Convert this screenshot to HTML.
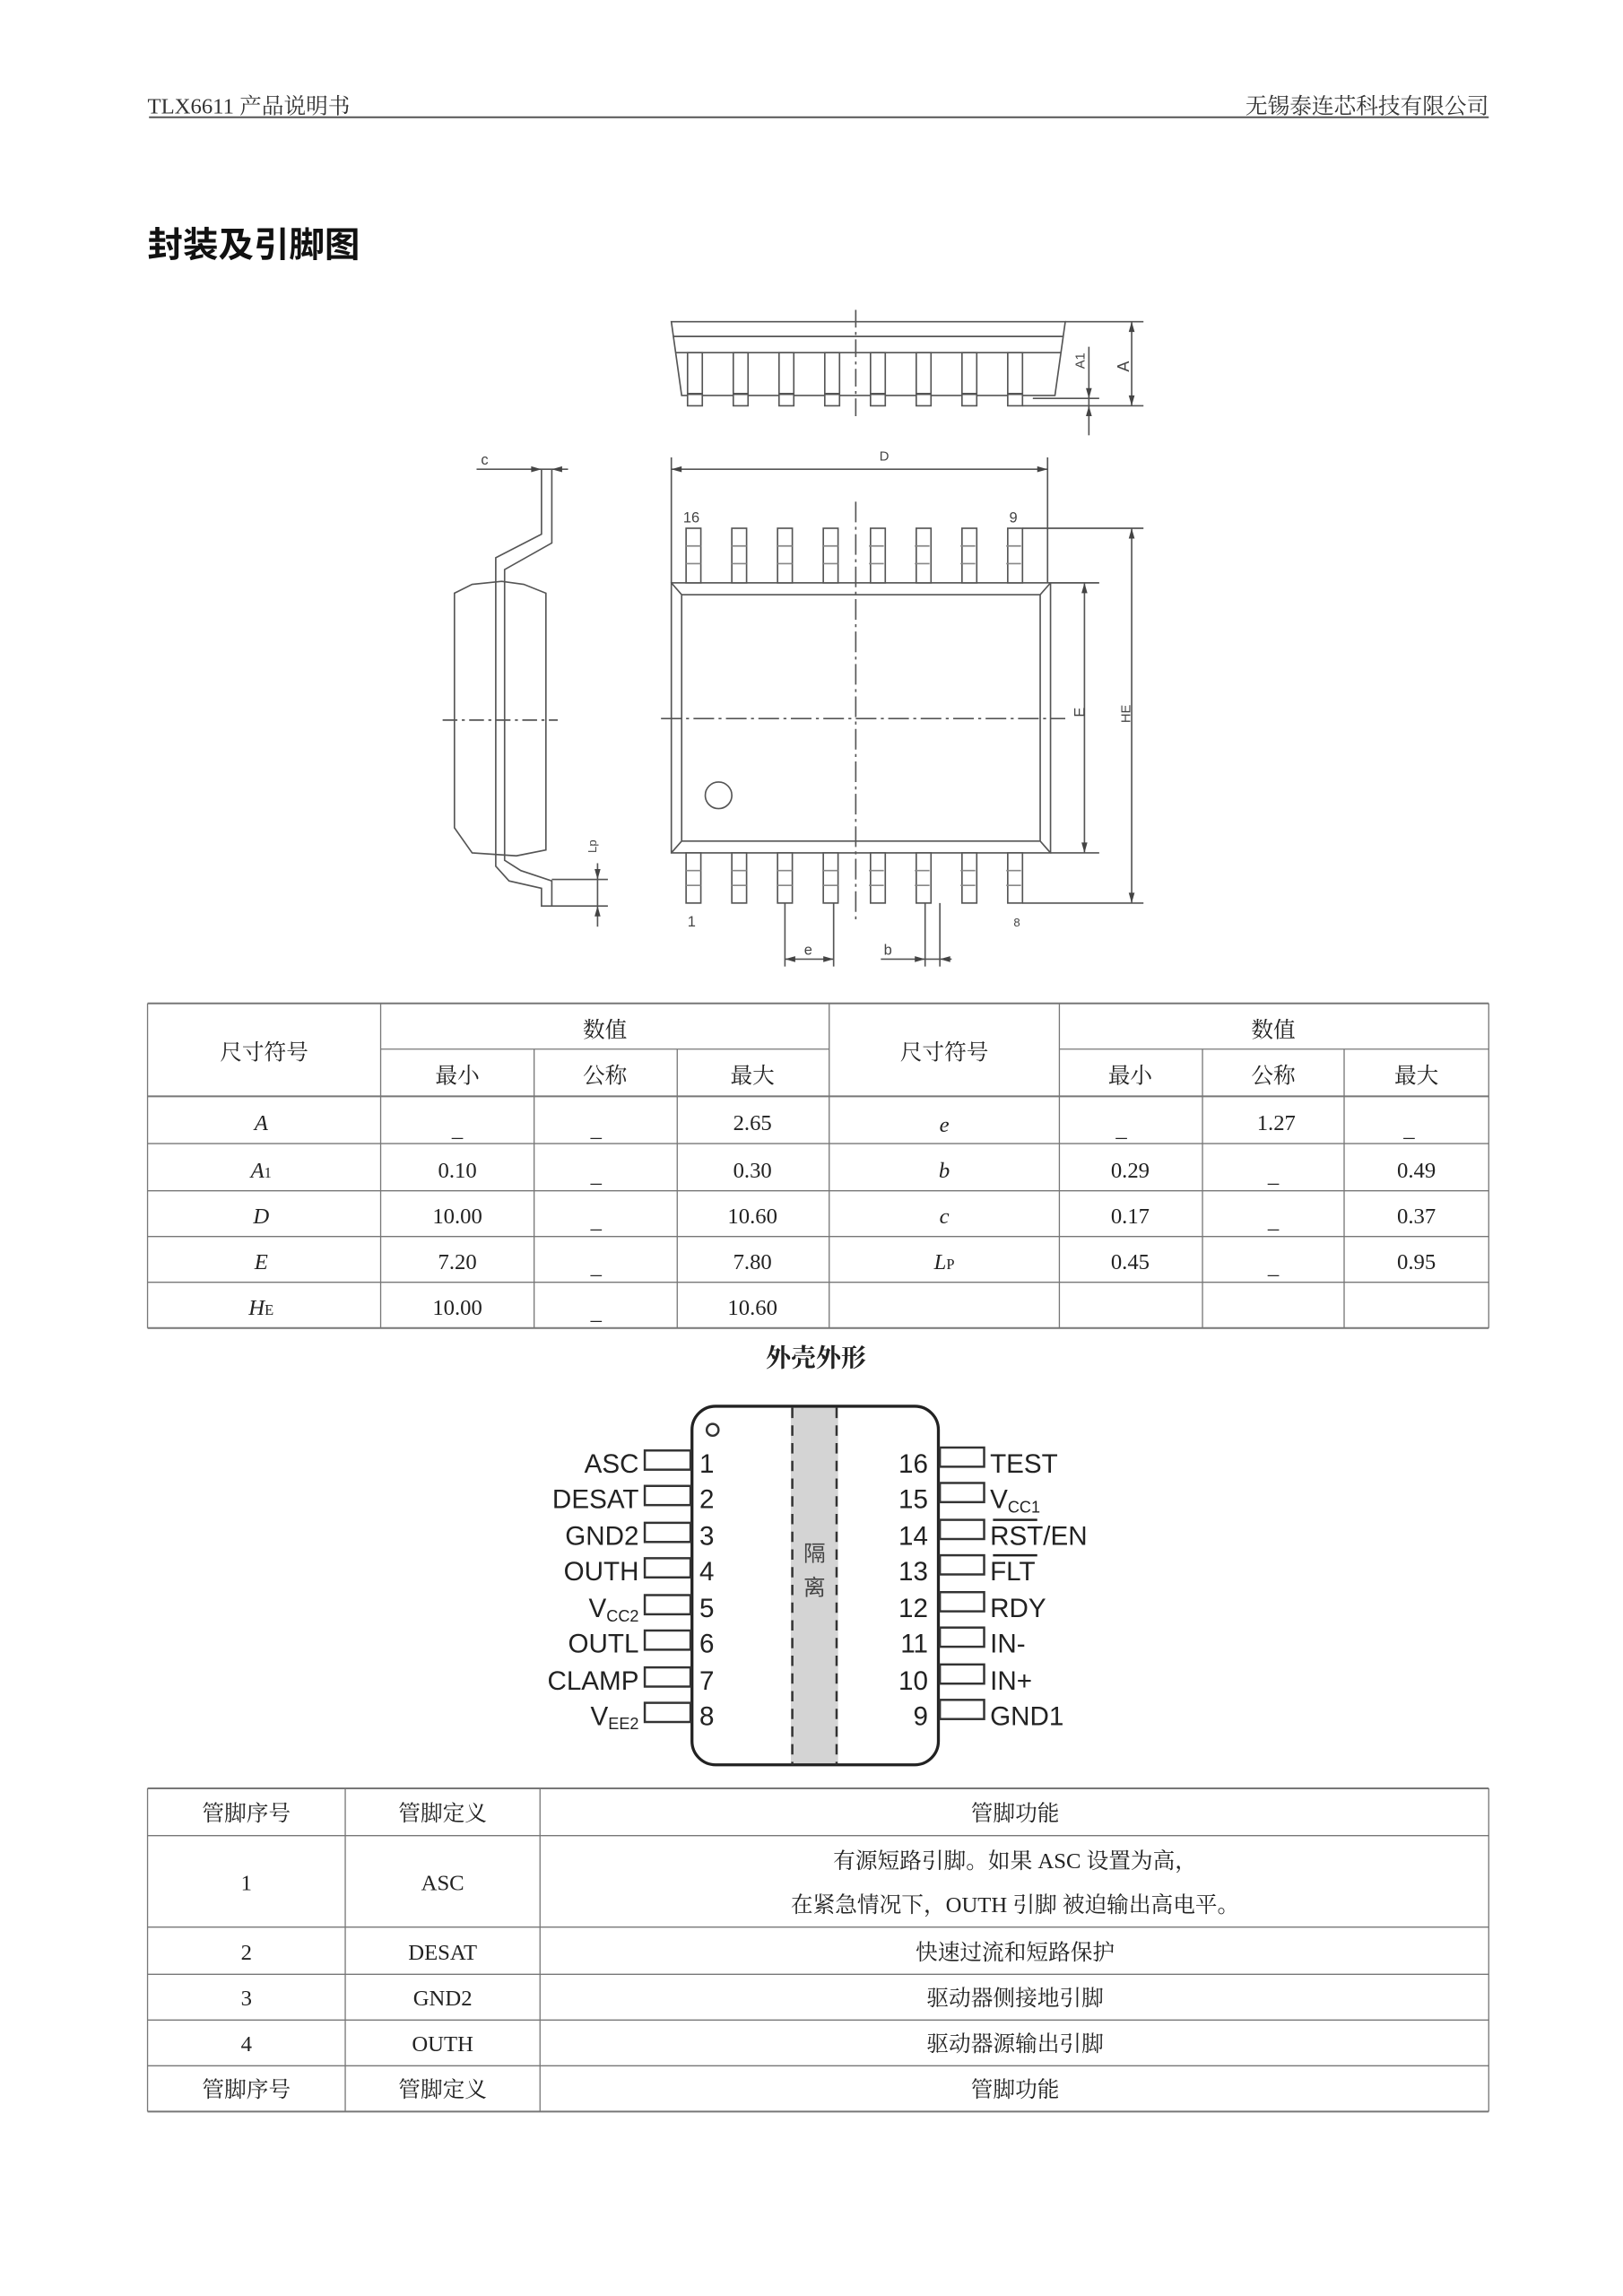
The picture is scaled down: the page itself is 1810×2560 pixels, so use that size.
<!DOCTYPE html>
<html><head><meta charset="utf-8"><style>
html,body{margin:0;padding:0;background:#fff;}
svg{display:block;}
.t{font-family:"Liberation Serif","Noto Serif CJK SC",serif;}
.s{font-family:"Liberation Sans","Noto Sans CJK SC",sans-serif;}
</style></head><body>
<svg width="1810" height="2560" viewBox="0 0 1100 1556" preserveAspectRatio="none" xmlns="http://www.w3.org/2000/svg">
<rect width="1100" height="1556" fill="#fff"/>
<!-- header -->
<text x="100" y="77" font-size="15" class="t" fill="#333" font-family="Liberation Mono, Noto Sans CJK SC, monospace">TLX6611 产品说明书</text>
<text x="1009" y="77" font-size="15" text-anchor="end" fill="#333" font-family="Liberation Serif, Noto Serif CJK SC, serif">无锡泰连芯科技有限公司</text>
<line x1="101" y1="79.5" x2="1009" y2="79.5" stroke="#555" stroke-width="1.2"/>
<text x="100" y="174" font-size="24" font-weight="bold" fill="#111" font-family="Liberation Sans, Noto Sans CJK SC, sans-serif">封装及引脚图</text>

<g stroke="#555" stroke-width="1" fill="none">
<!-- top side view -->
<polygon points="455,218 722,218 715,268 462,268"/>
<line x1="456" y1="228" x2="721" y2="228"/>
<line x1="458" y1="239" x2="719" y2="239"/>
<g fill="#fff">
<rect x="466" y="239" width="10" height="36"/><rect x="497" y="239" width="10" height="36"/><rect x="528" y="239" width="10" height="36"/><rect x="559" y="239" width="10" height="36"/><rect x="590" y="239" width="10" height="36"/><rect x="621" y="239" width="10" height="36"/><rect x="652" y="239" width="10" height="36"/><rect x="683" y="239" width="10" height="36"/>
</g>
<g stroke-width="1.5"><line x1="466" y1="267" x2="693" y2="267" stroke-dasharray="10 21"/></g>
<line x1="580" y1="210" x2="580" y2="282" stroke-dasharray="12 3 2 3"/>
<line x1="722" y1="218" x2="775" y2="218"/>
<line x1="693" y1="275" x2="775" y2="275"/>
<line x1="767" y1="218" x2="767" y2="275"/>
<line x1="738" y1="235" x2="738" y2="295"/>
<line x1="700" y1="270" x2="745" y2="270"/>
<!-- side view -->
<path d="M308,402 L320,396 L340,394 L355,396 L370,402 L370,576 L350,580 L320,578 L308,561 Z"/>
<path d="M367,318 L367,362 L336,378 L336,587 L345,597 L367,602 L367,614 L374,614 L374,597 L353,590 L342,583 L342,386 L374,368 L374,318"/>
<line x1="300" y1="488" x2="378" y2="488" stroke-dasharray="10 3 2 3"/>
<line x1="323" y1="318" x2="385" y2="318"/>
<line x1="374" y1="596" x2="412" y2="596"/>
<line x1="374" y1="614" x2="412" y2="614"/>
<line x1="405" y1="585" x2="405" y2="628"/>
<!-- top view -->
<rect x="455" y="395" width="257" height="183"/>
<path d="M455,395 L462,403 L705,403 L712,395 M462,403 L462,570 L455,578 M705,403 L705,570 L712,578 M462,570 L705,570"/>
<g fill="#fff">
<rect x="465" y="358" width="10" height="37"/><rect x="496" y="358" width="10" height="37"/><rect x="527" y="358" width="10" height="37"/><rect x="558" y="358" width="10" height="37"/><rect x="590" y="358" width="10" height="37"/><rect x="621" y="358" width="10" height="37"/><rect x="652" y="358" width="10" height="37"/><rect x="683" y="358" width="10" height="37"/>
<rect x="465" y="578" width="10" height="34"/><rect x="496" y="578" width="10" height="34"/><rect x="527" y="578" width="10" height="34"/><rect x="558" y="578" width="10" height="34"/><rect x="590" y="578" width="10" height="34"/><rect x="621" y="578" width="10" height="34"/><rect x="652" y="578" width="10" height="34"/><rect x="683" y="578" width="10" height="34"/>
</g>
<g stroke="#888"><line x1="465" y1="370" x2="693" y2="370" stroke-dasharray="10 21"/><line x1="465" y1="382" x2="693" y2="382" stroke-dasharray="10 21"/><line x1="465" y1="590" x2="693" y2="590" stroke-dasharray="10 21"/><line x1="465" y1="600" x2="693" y2="600" stroke-dasharray="10 21"/></g>
<circle cx="487" cy="539" r="9"/>
<line x1="580" y1="340" x2="580" y2="625" stroke-dasharray="14 3 2 3"/>
<line x1="448" y1="487" x2="722" y2="487" stroke-dasharray="14 3 2 3"/>
<line x1="455" y1="310" x2="455" y2="395"/><line x1="710" y1="310" x2="710" y2="395"/>
<line x1="455" y1="318" x2="710" y2="318"/>
<line x1="712" y1="395" x2="745" y2="395"/><line x1="712" y1="578" x2="745" y2="578"/>
<line x1="735" y1="395" x2="735" y2="578"/>
<line x1="693" y1="358" x2="775" y2="358"/><line x1="693" y1="612" x2="775" y2="612"/>
<line x1="767" y1="358" x2="767" y2="612"/>
<line x1="532" y1="612" x2="532" y2="655"/><line x1="565" y1="612" x2="565" y2="655"/>
<line x1="532" y1="650" x2="565" y2="650"/>
<line x1="627" y1="612" x2="627" y2="655"/><line x1="637" y1="612" x2="637" y2="655"/>
<line x1="597" y1="650" x2="645" y2="650"/>
</g>
<g fill="#444">
<polygon points="455,318 462,316 462,320"/><polygon points="710,318 703,316 703,320"/>
<polygon points="735,395 733,402 737,402"/><polygon points="735,578 733,571 737,571"/>
<polygon points="767,358 765,365 769,365"/><polygon points="767,612 765,605 769,605"/>
<polygon points="767,218 765,225 769,225"/><polygon points="767,275 765,268 769,268"/>
<polygon points="738,270 736,263 740,263"/><polygon points="738,275 736,282 740,282"/>
<polygon points="367,318 360,316 360,320"/><polygon points="374,318 381,316 381,320"/>
<polygon points="405,596 403,589 407,589"/><polygon points="405,614 403,621 407,621"/>
<polygon points="532,650 539,648 539,652"/><polygon points="565,650 558,648 558,652"/>
<polygon points="627,650 620,648 620,652"/><polygon points="637,650 644,648 644,652"/>
</g>
<g font-size="10" fill="#444" class="s">
<text x="596" y="312" font-size="9">D</text>
<text x="463" y="354">16</text><text x="684" y="354">9</text>
<text x="466" y="628">1</text><text x="687" y="628" font-size="8">8</text>
<text x="545" y="647">e</text><text x="599" y="647">b</text>
<text x="326" y="315">c</text>
<text transform="translate(735,486) rotate(-90)" font-size="10">E</text>
<text transform="translate(766,490) rotate(-90)" font-size="9">HE</text>
<text transform="translate(765,252) rotate(-90)" font-size="11">A</text>
<text transform="translate(735,250) rotate(-90)" font-size="9">A1</text>
<text transform="translate(404,578) rotate(-90)" font-size="8">Lp</text>
</g>

<!-- table 1 -->
<g stroke="#777" stroke-width="0.8">
<line x1="100" y1="680" x2="1009" y2="680" stroke-width="1.2"/>
<line x1="258" y1="711" x2="562" y2="711"/><line x1="718" y1="711" x2="1009" y2="711"/>
<line x1="100" y1="743" x2="1009" y2="743" stroke-width="1.2"/>
<line x1="100" y1="775" x2="1009" y2="775"/>
<line x1="100" y1="807" x2="1009" y2="807"/>
<line x1="100" y1="838" x2="1009" y2="838"/>
<line x1="100" y1="869" x2="1009" y2="869"/>
<line x1="100" y1="900" x2="1009" y2="900" stroke-width="1.2"/>
<line x1="100" y1="680" x2="100" y2="900"/><line x1="258" y1="680" x2="258" y2="900"/>
<line x1="362" y1="711" x2="362" y2="900"/><line x1="459" y1="711" x2="459" y2="900"/>
<line x1="562" y1="680" x2="562" y2="900"/><line x1="718" y1="680" x2="718" y2="900"/>
<line x1="815" y1="711" x2="815" y2="900"/><line x1="911" y1="711" x2="911" y2="900"/>
<line x1="1009" y1="680" x2="1009" y2="900"/>
</g>
<g font-size="15" fill="#222" text-anchor="middle" class="t">
<text x="179" y="718">尺寸符号</text><text x="410" y="703">数值</text>
<text x="310" y="734">最小</text><text x="410" y="734">公称</text><text x="510" y="734">最大</text>
<text x="640" y="718">尺寸符号</text><text x="863" y="703">数值</text>
<text x="766" y="734">最小</text><text x="863" y="734">公称</text><text x="960" y="734">最大</text>
<g font-style="italic"><text x="177" y="766">A</text><text x="177" y="798">A<tspan font-size="10" font-style="normal">1</tspan></text><text x="177" y="829">D</text><text x="177" y="860">E</text><text x="177" y="891">H<tspan font-size="10" font-style="normal">E</tspan></text>
<text x="640" y="767">e</text><text x="640" y="798">b</text><text x="640" y="829">c</text><text x="640" y="860">L<tspan font-size="10" font-style="normal">P</tspan></text></g>
<text x="310" y="770">_</text><text x="404" y="770">_</text><text x="510" y="766">2.65</text>
<text x="310" y="798">0.10</text><text x="404" y="801">_</text><text x="510" y="798">0.30</text>
<text x="310" y="829">10.00</text><text x="404" y="832">_</text><text x="510" y="829">10.60</text>
<text x="310" y="860">7.20</text><text x="404" y="863">_</text><text x="510" y="860">7.80</text>
<text x="310" y="891">10.00</text><text x="404" y="894">_</text><text x="510" y="891">10.60</text>
<text x="760" y="770">_</text><text x="865" y="766">1.27</text><text x="955" y="770">_</text>
<text x="766" y="798">0.29</text><text x="863" y="801">_</text><text x="960" y="798">0.49</text>
<text x="766" y="829">0.17</text><text x="863" y="832">_</text><text x="960" y="829">0.37</text>
<text x="766" y="860">0.45</text><text x="863" y="863">_</text><text x="960" y="860">0.95</text>
</g>
<text x="553" y="926" font-size="17" font-weight="bold" text-anchor="middle" fill="#222" class="t">外壳外形</text>

<!-- pinout -->
<rect x="536" y="954" width="32" height="242" fill="#d4d4d4"/>
<rect x="469" y="953" width="167" height="243" rx="16" fill="none" stroke="#222" stroke-width="2"/>
<line x1="537" y1="954" x2="537" y2="1196" stroke="#333" stroke-width="1.5" stroke-dasharray="7 5"/>
<line x1="567" y1="954" x2="567" y2="1196" stroke="#333" stroke-width="1.5" stroke-dasharray="7 5"/>
<circle cx="483" cy="969" r="4" fill="none" stroke="#333" stroke-width="1.5"/>
<text x="552" y="1058" font-size="15" text-anchor="middle" fill="#444" class="s">隔</text>
<text x="552" y="1081" font-size="15" text-anchor="middle" fill="#444" class="s">离</text>
<g fill="none" stroke="#333" stroke-width="1.5">
<rect x="437" y="983" width="31" height="13"/><rect x="437" y="1007" width="31" height="13"/><rect x="437" y="1032" width="31" height="13"/><rect x="437" y="1056" width="31" height="13"/><rect x="437" y="1081" width="31" height="13"/><rect x="437" y="1105" width="31" height="13"/><rect x="437" y="1130" width="31" height="13"/><rect x="437" y="1154" width="31" height="13"/>
<rect x="637" y="981" width="30" height="13"/><rect x="637" y="1005" width="30" height="13"/><rect x="637" y="1030" width="30" height="13"/><rect x="637" y="1054" width="30" height="13"/><rect x="637" y="1079" width="30" height="13"/><rect x="637" y="1103" width="30" height="13"/><rect x="637" y="1128" width="30" height="13"/><rect x="637" y="1152" width="30" height="13"/>
</g>
<g font-size="18" fill="#222" class="s">
<g text-anchor="end">
<text x="433" y="998">ASC</text><text x="433" y="1022">DESAT</text><text x="433" y="1047">GND2</text><text x="433" y="1071">OUTH</text>
<text x="433" y="1096">V<tspan font-size="11" dy="3">CC2</tspan></text><text x="433" y="1120">OUTL</text><text x="433" y="1145">CLAMP</text><text x="433" y="1169">V<tspan font-size="11" dy="3">EE2</tspan></text>
<text x="629" y="998">16</text><text x="629" y="1022">15</text><text x="629" y="1047">14</text><text x="629" y="1071">13</text><text x="629" y="1096">12</text><text x="629" y="1120">11</text><text x="629" y="1145">10</text><text x="629" y="1169">9</text>
</g>
<text x="474" y="998">1</text><text x="474" y="1022">2</text><text x="474" y="1047">3</text><text x="474" y="1071">4</text><text x="474" y="1096">5</text><text x="474" y="1120">6</text><text x="474" y="1145">7</text><text x="474" y="1169">8</text>
<text x="671" y="998">TEST</text><text x="671" y="1022">V<tspan font-size="11" dy="3">CC1</tspan></text><text x="671" y="1047">RST/EN</text><text x="671" y="1071">FLT</text>
<text x="671" y="1096">RDY</text><text x="671" y="1120">IN-</text><text x="671" y="1145">IN+</text><text x="671" y="1169">GND1</text>
</g>
<line x1="673" y1="1030" x2="703" y2="1030" stroke="#222" stroke-width="1.5"/>
<line x1="673" y1="1054" x2="703" y2="1054" stroke="#222" stroke-width="1.5"/>

<!-- table 2 -->
<g stroke="#777" stroke-width="0.8">
<line x1="100" y1="1212" x2="1009" y2="1212" stroke-width="1.2"/>
<line x1="100" y1="1244" x2="1009" y2="1244"/>
<line x1="100" y1="1306" x2="1009" y2="1306"/>
<line x1="100" y1="1338" x2="1009" y2="1338"/>
<line x1="100" y1="1369" x2="1009" y2="1369"/>
<line x1="100" y1="1400" x2="1009" y2="1400"/>
<line x1="100" y1="1431" x2="1009" y2="1431" stroke-width="1.2"/>
<line x1="100" y1="1212" x2="100" y2="1431"/><line x1="234" y1="1212" x2="234" y2="1431"/>
<line x1="366" y1="1212" x2="366" y2="1431"/><line x1="1009" y1="1212" x2="1009" y2="1431"/>
</g>
<g font-size="15" fill="#222" text-anchor="middle" class="t">
<text x="167" y="1234">管脚序号</text><text x="300" y="1234">管脚定义</text><text x="688" y="1234">管脚功能</text>
<text x="167" y="1281">1</text><text x="300" y="1281">ASC</text>
<text x="688" y="1266">有源短路引脚。如果 ASC 设置为高，</text>
<text x="688" y="1296">在紧急情况下，OUTH 引脚 被迫输出高电平。</text>
<text x="167" y="1328">2</text><text x="300" y="1328">DESAT</text><text x="688" y="1328">快速过流和短路保护</text>
<text x="167" y="1359">3</text><text x="300" y="1359">GND2</text><text x="688" y="1359">驱动器侧接地引脚</text>
<text x="167" y="1390">4</text><text x="300" y="1390">OUTH</text><text x="688" y="1390">驱动器源输出引脚</text>
<text x="167" y="1421">管脚序号</text><text x="300" y="1421">管脚定义</text><text x="688" y="1421">管脚功能</text>
</g>
</svg>
</body></html>
